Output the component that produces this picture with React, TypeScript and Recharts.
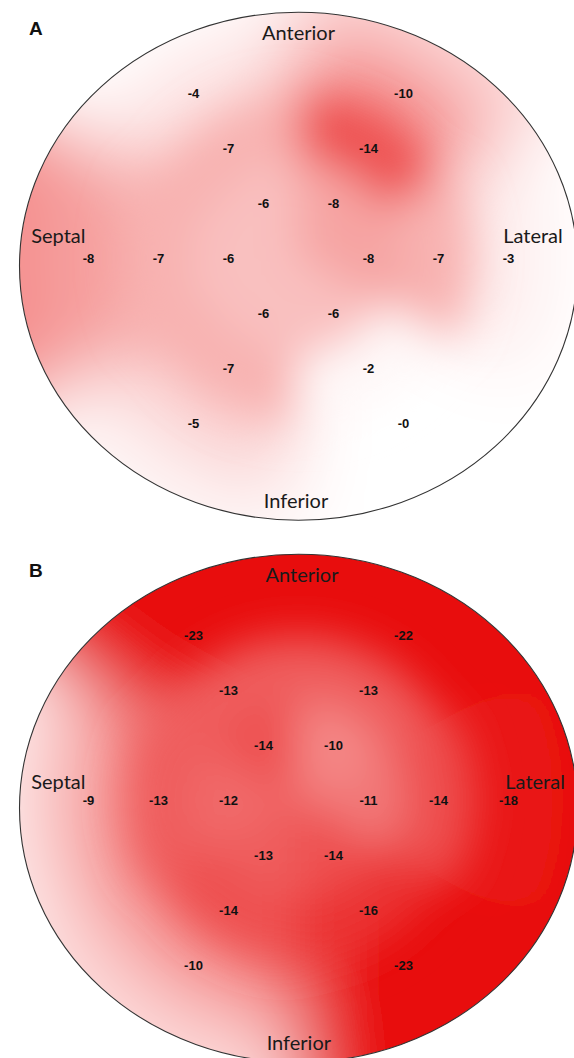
import { Scatter, ScatterChart, XAxis, YAxis } from 'recharts';

// 18-segment bullseye positions (x in half-columns, y in rows), same for both maps
const gridX = [-3, 3, -2, 2, -1, 1, -6, -4, -2, 2, 4, 6, -1, 1, -2, 2, -3, 3];
const gridY = [3, 3, 2, 2, 1, 1, 0, 0, 0, 0, 0, 0, -1, -1, -2, -2, -3, -3];

const strainA = [-4, -10, -7, -14, -6, -8, -8, -7, -6, -8, -7, -3, -6, -6, -7, -2, -5, -0];
const strainB = [-23, -22, -13, -13, -14, -10, -9, -13, -12, -11, -14, -18, -13, -14, -14, -16, -10, -23];

const regionNames = ['Anterior', 'Septal', 'Lateral', 'Inferior'];
const regionXA = [0, -6.86, 6.7, -0.07];
const regionYA = [4.11, 0.42, 0.42, -4.4];
const regionXB = [0.1, -6.86, 6.76, 0.01];
const regionYB = [4.11, 0.35, 0.35, -4.4];

const PX_X = 35;
const PX_Y = 55;
const X_MIN = -298.5 / PX_X;
const X_MAX = (574 - 298.5) / PX_X;
const Y_MAX = 258 / PX_Y;
const RED = [232, 16, 15];

const fmt = (v: number) => (v === 0 && 1 / v < 0 ? '-0' : String(v));

function heatColor(v: number) {
  const t = Math.max(0, Math.min(1, (Math.abs(v) - 1.5) / 17));
  const c = RED.map((ch) => Math.round(255 + (ch - 255) * t));
  return `rgb(${c[0]}, ${c[1]}, ${c[2]})`;
}

type Pt = [number, number];

const ringOf = (i: number) => (gridY[i] === 0 ? Math.abs(gridX[i]) / 2 : Math.abs(gridY[i]));
const angleOf = (i: number) => Math.atan2(gridY[i] * PX_Y, gridX[i] * PX_X);
const rays = gridX
  .map((_, i) => i)
  .filter((i) => ringOf(i) === 1)
  .map(angleOf)
  .sort((a, b) => a - b);
const wrap = (a: number) => ((a % (2 * Math.PI)) + 2 * Math.PI) % (2 * Math.PI);

// annular-sector cell of segment i, in pixel offsets from that segment's point
// (rim cells reach in to the centre; the inner rings are drawn over them)
function cellPolygon(i: number): Pt[] {
  const ang = angleOf(i);
  const ring = ringOf(i);
  const ox = gridX[i] * PX_X;
  const oy = -gridY[i] * PX_Y;
  const r1 = Math.hypot(ox, oy) / ring;
  const k = rays.findIndex((a) => Math.abs(a - ang) < 1e-6);
  const prev = rays[(k + rays.length - 1) % rays.length];
  const next = rays[(k + 1) % rays.length];
  const start = ang - wrap(ang - prev) / 2;
  const end = ang + wrap(next - ang) / 2;
  const rIn = ring === 2 ? 1.5 * r1 : 0;
  const rOut = ring === 3 ? 8 * r1 : (ring + 0.5) * r1;
  const n = 24;
  const out: Pt[] = [];
  for (let s = 0; s <= n; s++) {
    const a = start + ((end - start) * s) / n;
    out.push([rOut * Math.cos(a) - ox, -rOut * Math.sin(a) - oy]);
  }
  if (rIn === 0) {
    out.push([-ox, -oy]);
  } else {
    for (let s = n; s >= 0; s--) {
      const a = start + ((end - start) * s) / n;
      out.push([rIn * Math.cos(a) - ox, -rIn * Math.sin(a) - oy]);
    }
  }
  return out;
}

// segment one ring further in on the same ray
function inwardOf(i: number) {
  const ring = ringOf(i);
  const ang = angleOf(i);
  return gridX.findIndex((_, j) => ringOf(j) === ring - 1 && Math.abs(angleOf(j) - ang) < 1e-6);
}

interface PanelProps {
  id: string;
  letter: string;
  values: number[];
  regionX: number[];
  regionY: number[];
  height: number;
}

function Panel({ id, letter, values, regionX, regionY, height }: PanelProps) {
  const points = gridX.map((x, i) => ({ x, y: gridY[i], v: values[i], idx: i, label: fmt(values[i]) }));
  const rim = points.filter((d) => ringOf(d.idx) === 3);
  const inner = points.filter((d) => ringOf(d.idx) < 3);
  const regions = regionNames.map((name, i) => ({ x: regionX[i], y: regionY[i], name }));
  const frame = [{ x: 0, y: -0.15 }];
  const rx = 279;
  const ry = 254;

  const renderCell = (p: any) => {
    const i = p.payload.idx;
    const v = p.payload.v;
    const pts = cellPolygon(i)
      .map(([dx, dy]) => `${p.cx + dx},${p.cy + dy}`)
      .join(' ');
    if (ringOf(i) < 3) {
      return <polygon points={pts} fill={heatColor(v)} stroke={heatColor(v)} strokeWidth={1} />;
    }
    // rim cells carry the trend from the ring inside them on to the edge
    const j = inwardOf(i);
    const ext = v + (v - values[j]) * 1.5;
    const ccx = p.cx - gridX[i] * PX_X;
    const ccy = p.cy + gridY[i] * PX_Y;
    const r1 = Math.hypot(gridX[i] * PX_X, gridY[i] * PX_Y) / 3;
    const gid = `rim-${id}-${i}`;
    return (
      <g>
        <defs>
          <radialGradient id={gid} gradientUnits="userSpaceOnUse" cx={ccx} cy={ccy} r={4 * r1}>
            <stop offset={0.75} stopColor={heatColor(v)} />
            <stop offset={1} stopColor={heatColor(Math.min(0, ext))} />
          </radialGradient>
        </defs>
        <polygon points={pts} fill={`url(#${gid})`} stroke={`url(#${gid})`} strokeWidth={1} />
      </g>
    );
  };

  return (
    <div style={{ position: 'relative', width: 574, height }}>
      <ScatterChart width={574} height={height} margin={{ top: 0, right: 0, bottom: 0, left: 0 }}>
        <XAxis type="number" dataKey="x" domain={[X_MIN, X_MAX]} hide />
        <YAxis type="number" dataKey="y" domain={[-(height - 258) / PX_Y, Y_MAX]} hide />
        <Scatter
          data={frame}
          isAnimationActive={false}
          shape={(p: any) => (
            <defs>
              <clipPath id={`clip-${id}`}>
                <ellipse cx={p.cx} cy={p.cy} rx={rx} ry={ry} />
              </clipPath>
            </defs>
          )}
        />
        <Scatter data={rim} className={`rim-${id}`} isAnimationActive={false} shape={renderCell} />
        <Scatter data={inner} className={`core-${id}`} isAnimationActive={false} shape={renderCell} />
        <Scatter
          data={frame}
          isAnimationActive={false}
          shape={(p: any) => (
            <ellipse cx={p.cx} cy={p.cy} rx={rx} ry={ry} fill="none" stroke="#333" strokeWidth={1.1} />
          )}
        />
        <Scatter
          data={points}
          isAnimationActive={false}
          shape={(p: any) => (
            <text
              x={p.cx}
              y={p.cy}
              textAnchor="middle"
              dominantBaseline="central"
              fontFamily="'Liberation Sans', Arial, sans-serif"
              fontWeight="bold"
              fontSize={13}
              fill="#111"
            >
              {p.payload.label}
            </text>
          )}
        />
        <Scatter
          data={regions}
          isAnimationActive={false}
          shape={(p: any) => (
            <text
              x={p.cx}
              y={p.cy}
              textAnchor="middle"
              dominantBaseline="central"
              fontFamily="Lato, 'Open Sans', sans-serif"
              fontSize={20}
              fill="#1a1a1a"
            >
              {p.payload.name}
            </text>
          )}
        />
      </ScatterChart>
      <div
        style={{
          position: 'absolute',
          left: 29,
          top: 18,
          fontFamily: "'Liberation Sans', Arial, sans-serif",
          fontWeight: 'bold',
          fontSize: 19,
          color: '#111',
        }}
      >
        {letter}
      </div>
    </div>
  );
}

export default function App() {
  return (
    <div
      style={{
        position: 'absolute',
        left: 0,
        top: 0,
        width: 574,
        height: 1058,
        overflow: 'hidden',
        background: '#fff',
      }}
    >
      <style>{`
        .rim-A { filter: url(#blurWide); clip-path: url(#clip-A); }
        .rim-B { filter: url(#blurWide); clip-path: url(#clip-B); }
        .core-A { filter: url(#blurTight); clip-path: url(#clip-A); }
        .core-B { filter: url(#blurTight); clip-path: url(#clip-B); }
      `}</style>
      <svg width={0} height={0} style={{ position: 'absolute' }}>
        <defs>
          <filter id="blurWide" filterUnits="userSpaceOnUse" x={-200} y={-200} width={1000} height={1000}>
            <feGaussianBlur stdDeviation={38} />
          </filter>
          <filter id="blurTight" filterUnits="userSpaceOnUse" x={-200} y={-200} width={1000} height={1000}>
            <feGaussianBlur stdDeviation={22} />
          </filter>
        </defs>
      </svg>
      <div style={{ position: 'absolute', left: 0, top: 0 }}>
        <Panel id="A" letter="A" values={strainA} regionX={regionXA} regionY={regionYA} height={542} />
      </div>
      <div style={{ position: 'absolute', left: 0, top: 542 }}>
        <Panel id="B" letter="B" values={strainB} regionX={regionXB} regionY={regionYB} height={516} />
      </div>
    </div>
  );
}
